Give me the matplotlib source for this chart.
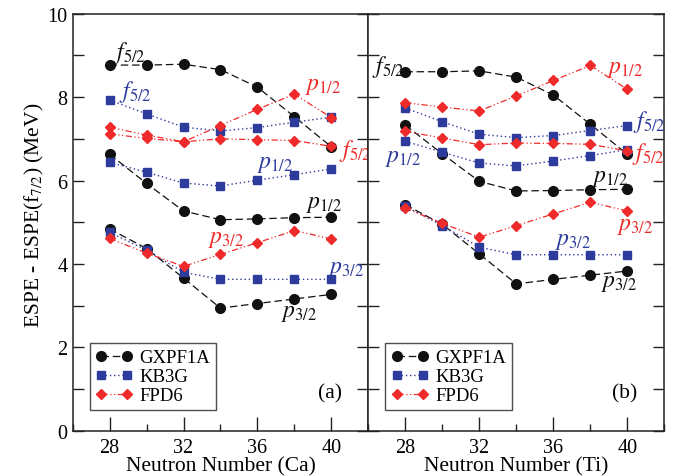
import matplotlib
matplotlib.use("Agg")
import matplotlib.pyplot as plt
from matplotlib.ticker import MultipleLocator

plt.rcParams["font.family"] = "serif"
plt.rcParams["font.serif"] = ["Liberation Serif", "DejaVu Serif"]
plt.rcParams["mathtext.fontset"] = "stix"

N = [28, 30, 32, 34, 36, 38, 40]

# Ca isotopes
ca_gx_f52 = [8.77, 8.77, 8.79, 8.66, 8.24, 7.53, 6.81]
ca_gx_p12 = [6.63, 5.93, 5.27, 5.06, 5.08, 5.11, 5.12]
ca_gx_p32 = [4.84, 4.37, 3.66, 2.94, 3.05, 3.16, 3.27]
ca_kb_f52 = [7.93, 7.60, 7.28, 7.19, 7.27, 7.40, 7.52]
ca_kb_p12 = [6.44, 6.20, 5.94, 5.87, 6.01, 6.14, 6.28]
ca_kb_p32 = [4.76, 4.33, 3.80, 3.63, 3.63, 3.63, 3.63]
ca_fp_f52 = [7.12, 7.01, 6.93, 7.00, 6.98, 6.96, 6.82]
ca_fp_p12 = [7.28, 7.09, 6.93, 7.32, 7.71, 8.07, 7.51]
ca_fp_p32 = [4.61, 4.26, 3.94, 4.23, 4.51, 4.80, 4.60]

# Ti isotopes
ti_gx_f52 = [8.61, 8.61, 8.63, 8.48, 8.05, 7.35, 6.63]
ti_gx_p12 = [7.33, 6.64, 5.98, 5.75, 5.76, 5.78, 5.79]
ti_gx_p32 = [5.42, 4.95, 4.24, 3.52, 3.63, 3.73, 3.83]
ti_kb_f52 = [7.74, 7.41, 7.11, 7.03, 7.08, 7.20, 7.32]
ti_kb_p12 = [6.94, 6.68, 6.42, 6.35, 6.47, 6.60, 6.74]
ti_kb_p32 = [5.38, 4.92, 4.40, 4.22, 4.22, 4.22, 4.22]
ti_fp_f52 = [7.18, 7.02, 6.86, 6.90, 6.89, 6.87, 6.71]
ti_fp_p12 = [7.87, 7.76, 7.67, 8.03, 8.40, 8.76, 8.19]
ti_fp_p32 = [5.34, 4.97, 4.64, 4.92, 5.20, 5.48, 5.27]

black = "#111111"
blue = "#2d3b9d"
red = "#ee2a2a"

gx_style = dict(color=black, marker="o", markersize=7, linestyle=(0, (6, 3)), linewidth=0.9)
kb_style = dict(color=blue, marker="s", markersize=6, linestyle=(0, (1, 2)), linewidth=1.0)
fp_style = dict(color=red, marker="D", markersize=5.5, linestyle=(0, (5, 2, 1, 2, 1, 2)), linewidth=0.9)

# level labels: (text, x, y, color)
ca_labels = [
    (r"$f_{5/2}$", 28.2, 8.95, black),
    (r"$f_{5/2}$", 28.5, 8.0, blue),
    (r"$p_{1/2}$", 38.6, 8.19, red),
    (r"$f_{5/2}$", 40.4, 6.59, red),
    (r"$p_{1/2}$", 36.0, 6.32, blue),
    (r"$p_{1/2}$", 38.65, 5.36, black),
    (r"$p_{3/2}$", 33.3, 4.53, red),
    (r"$p_{3/2}$", 39.8, 3.81, blue),
    (r"$p_{3/2}$", 37.3, 2.75, black),
]
ti_labels = [
    (r"$f_{5/2}$", 26.2, 8.6, black),
    (r"$p_{1/2}$", 38.9, 8.6, red),
    (r"$f_{5/2}$", 40.3, 7.28, blue),
    (r"$f_{5/2}$", 40.25, 6.51, red),
    (r"$p_{1/2}$", 26.9, 6.47, blue),
    (r"$p_{1/2}$", 38.1, 5.99, black),
    (r"$p_{3/2}$", 39.45, 4.83, red),
    (r"$p_{3/2}$", 36.1, 4.47, blue),
    (r"$p_{3/2}$", 38.6, 3.47, black),
]

fig = plt.figure(figsize=(6.85, 4.77), dpi=100)
ax1 = fig.add_axes([0.106, 0.095, 0.4317, 0.874])
ax2 = fig.add_axes([0.5377, 0.095, 0.4321, 0.874])

panels = [
    (ax1, [ca_gx_f52, ca_gx_p12, ca_gx_p32], [ca_kb_f52, ca_kb_p12, ca_kb_p32],
     [ca_fp_f52, ca_fp_p12, ca_fp_p32], ca_labels, "Neutron Number (Ca)", "(a)"),
    (ax2, [ti_gx_f52, ti_gx_p12, ti_gx_p32], [ti_kb_f52, ti_kb_p12, ti_kb_p32],
     [ti_fp_f52, ti_fp_p12, ti_fp_p32], ti_labels, "Neutron Number (Ti)", "(b)"),
]

for ax, gx, kb, fp, labels, xlabel, tag in panels:
    for i, s in enumerate(gx):
        ax.plot(N, s, label="GXPF1A" if i == 0 else None, **gx_style)
    for i, s in enumerate(kb):
        ax.plot(N, s, label="KB3G" if i == 0 else None, **kb_style)
    for i, s in enumerate(fp):
        ax.plot(N, s, label="FPD6" if i == 0 else None, **fp_style)
    for txt, x, y, c in labels:
        ax.text(x, y, txt, color=c, fontsize=17, ha="left", va="baseline")
    ax.set_xlim(26, 42)
    ax.set_ylim(0, 10)
    ax.xaxis.set_major_locator(MultipleLocator(4))
    ax.xaxis.set_minor_locator(MultipleLocator(2))
    ax.yaxis.set_major_locator(MultipleLocator(2))
    ax.yaxis.set_minor_locator(MultipleLocator(1))
    ax.tick_params(which="both", direction="in", left=True, right=True, top=False,
                   labelsize=14.5, width=1, color="#222222")
    ax.tick_params(axis="x", which="major", length=10, pad=5)
    ax.tick_params(axis="x", which="minor", length=5)
    ax.tick_params(axis="y", which="both", length=8)
    ax.set_xticks([28, 32, 36, 40])
    ax.set_xlabel(xlabel, fontsize=15.5, labelpad=0)
    for sp in ax.spines.values():
        sp.set_linewidth(1.1)
        sp.set_color("#222222")
    leg = ax.legend(loc="lower left", bbox_to_anchor=(0.058, 0.05), numpoints=2,
                    fontsize=13.5, frameon=True, fancybox=False, handlelength=2.0,
                    handletextpad=0.35, borderpad=0.3, labelspacing=0.1, borderaxespad=0)
    leg.get_frame().set_edgecolor("#222222")
    leg.get_frame().set_linewidth(1.0)
    ax.text(0.91, 0.09, tag, transform=ax.transAxes, fontsize=15.5, ha="right", va="center")

ax1.set_ylabel(r"ESPE - ESPE(f$_{7/2}$) (MeV)", fontsize=15.5)
ax1.yaxis.set_label_coords(-0.09, 0.52)
ax2.tick_params(axis="y", labelleft=False)

fig.savefig("out.png", dpi=100)
